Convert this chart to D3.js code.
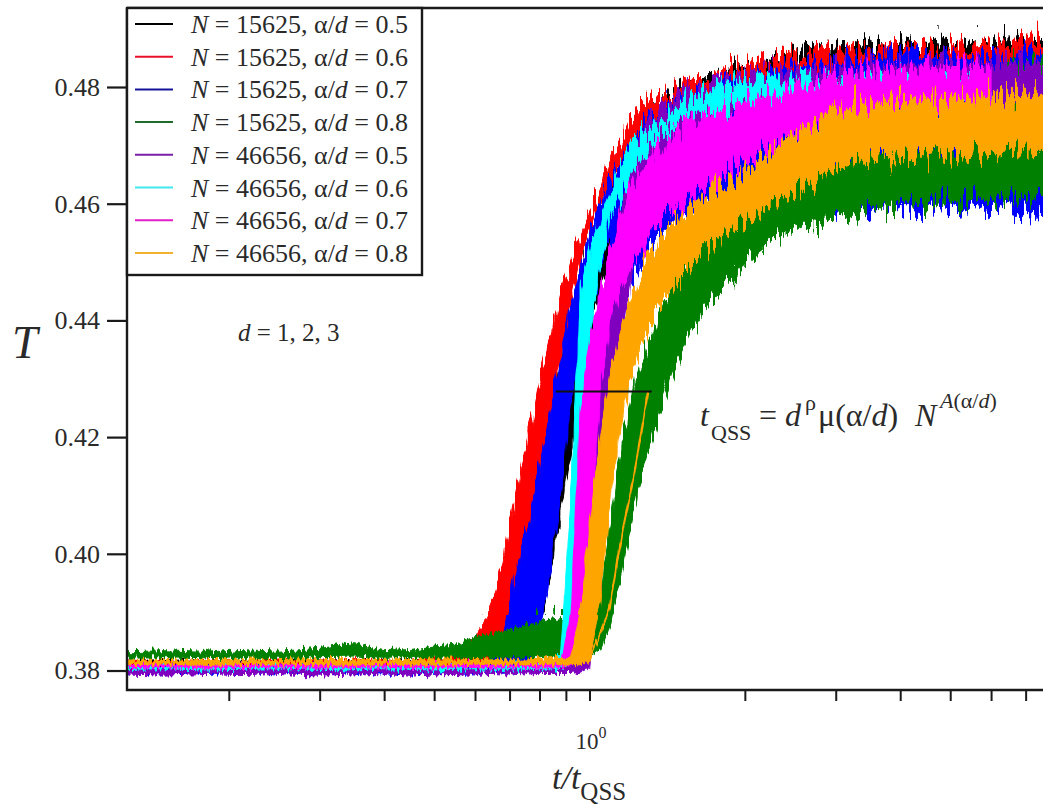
<!DOCTYPE html>
<html>
<head>
<meta charset="utf-8">
<script src="https://cdn.jsdelivr.net/npm/d3@7"></script>
<style>
  body { margin: 0; background: #fff; }
  svg { display: block; }
  text { font-family: "Liberation Serif", "Times New Roman", serif; fill: #2a2a2a; }
</style>
</head>
<body>
<svg id="chart" width="1043" height="804"></svg>
<script>
// Sampling points along the scaled time axis t/t_QSS
const gridT = [0.127, 0.15, 0.18, 0.21, 0.25, 0.3, 0.35, 0.4, 0.45, 0.5,
  0.55, 0.6, 0.64, 0.68, 0.72, 0.76, 0.8, 0.84, 0.88, 0.92,
  0.96, 1.0, 1.05, 1.1, 1.15, 1.2, 1.26, 1.32, 1.4, 1.48,
  1.56, 1.65, 1.75, 1.85, 1.95, 2.1, 2.25, 2.4, 2.6, 2.8,
  3.0, 3.25, 3.5, 3.8, 4.1, 4.4, 4.8, 5.2, 5.6, 6.0,
  6.5, 7.0, 8.0];

// Temperature envelopes (lower / upper edge of the fluctuating runs, d = 1, 2, 3)
const blackHi = [0.3815, 0.3817, 0.3814, 0.3816, 0.3815, 0.3818, 0.3815, 0.3816, 0.3817, 0.3816,
  0.3818, 0.3818, 0.3820, 0.3850, 0.3930, 0.4020, 0.4120, 0.4210, 0.4310, 0.4400,
  0.4470, 0.4530, 0.4580, 0.4635, 0.4670, 0.4705, 0.4740, 0.4760, 0.4780, 0.4795,
  0.4805, 0.4815, 0.4812, 0.4828, 0.4838, 0.4832, 0.4852, 0.4845, 0.4866, 0.4852,
  0.4872, 0.4858, 0.4880, 0.4862, 0.4878, 0.4858, 0.4884, 0.4865, 0.4876, 0.4862,
  0.4888, 0.4868, 0.4880];
const blackLo = [0.3807, 0.3806, 0.3808, 0.3806, 0.3807, 0.3806, 0.3808, 0.3806, 0.3807, 0.3806,
  0.3807, 0.3806, 0.3807, 0.3808, 0.3810, 0.3835, 0.3890, 0.3970, 0.4070, 0.4180,
  0.4280, 0.4370, 0.4450, 0.4520, 0.4570, 0.4610, 0.4650, 0.4680, 0.4705, 0.4725,
  0.4740, 0.4750, 0.4758, 0.4765, 0.4770, 0.4775, 0.4778, 0.4780, 0.4782, 0.4784,
  0.4785, 0.4786, 0.4787, 0.4788, 0.4788, 0.4789, 0.4790, 0.4790, 0.4791, 0.4791,
  0.4792, 0.4792, 0.4793];

const redHi = [0.3816, 0.3815, 0.3817, 0.3815, 0.3818, 0.3816, 0.3817, 0.3818, 0.3816, 0.3820,
  0.3824, 0.3855, 0.3900, 0.3990, 0.4100, 0.4200, 0.4300, 0.4370, 0.4445, 0.4500,
  0.4545, 0.4580, 0.4625, 0.4680, 0.4710, 0.4745, 0.4770, 0.4778, 0.4782, 0.4790,
  0.4805, 0.4806, 0.4818, 0.4834, 0.4826, 0.4846, 0.4838, 0.4855, 0.4846, 0.4860,
  0.4850, 0.4866, 0.4855, 0.4870, 0.4858, 0.4868, 0.4862, 0.4874, 0.4866, 0.4882,
  0.4870, 0.4886, 0.4876];
const redLo = [0.3808, 0.3809, 0.3807, 0.3808, 0.3809, 0.3807, 0.3808, 0.3809, 0.3808, 0.3807,
  0.3808, 0.3808, 0.3810, 0.3820, 0.3870, 0.3980, 0.4100, 0.4220, 0.4330, 0.4420,
  0.4500, 0.4550, 0.4600, 0.4630, 0.4660, 0.4680, 0.4700, 0.4715, 0.4730, 0.4740,
  0.4750, 0.4755, 0.4762, 0.4768, 0.4772, 0.4776, 0.4778, 0.4780, 0.4782, 0.4784,
  0.4785, 0.4786, 0.4787, 0.4788, 0.4789, 0.4790, 0.4790, 0.4791, 0.4791, 0.4792,
  0.4792, 0.4793, 0.4793];

const blueHi = [0.3809, 0.3808, 0.3810, 0.3808, 0.3809, 0.3810, 0.3808, 0.3809, 0.3810, 0.3808,
  0.3809, 0.3810, 0.3812, 0.3860, 0.3970, 0.4050, 0.4150, 0.4240, 0.4340, 0.4420,
  0.4490, 0.4550, 0.4600, 0.4640, 0.4670, 0.4700, 0.4730, 0.4750, 0.4770, 0.4780,
  0.4790, 0.4795, 0.4805, 0.4810, 0.4815, 0.4820, 0.4825, 0.4830, 0.4835, 0.4840,
  0.4838, 0.4845, 0.4848, 0.4852, 0.4862, 0.4850, 0.4855, 0.4858, 0.4850, 0.4856,
  0.4852, 0.4858, 0.4855];
const blueLo = [0.3796, 0.3798, 0.3795, 0.3797, 0.3794, 0.3797, 0.3795, 0.3796, 0.3794, 0.3797,
  0.3795, 0.3796, 0.3797, 0.3797, 0.3798, 0.3810, 0.3865, 0.3980, 0.4100, 0.4260,
  0.4360, 0.4430, 0.4490, 0.4540, 0.4400, 0.4460, 0.4500, 0.4530, 0.4550, 0.4570,
  0.4580, 0.4592, 0.4585, 0.4600, 0.4592, 0.4605, 0.4588, 0.4600, 0.4595, 0.4608,
  0.4590, 0.4600, 0.4586, 0.4602, 0.4595, 0.4585, 0.4600, 0.4590, 0.4598, 0.4588,
  0.4602, 0.4592, 0.4598];

const greenHi = [0.3832, 0.3834, 0.3831, 0.3836, 0.3833, 0.3838, 0.3846, 0.3834, 0.3836, 0.3842,
  0.3845, 0.3858, 0.3862, 0.3868, 0.3872, 0.3878, 0.3882, 0.3886, 0.3889, 0.3890,
  0.3893, 0.3897, 0.3940, 0.4060, 0.4180, 0.4260, 0.4325, 0.4370, 0.4430, 0.4475,
  0.4510, 0.4545, 0.4570, 0.4590, 0.4610, 0.4630, 0.4645, 0.4655, 0.4665, 0.4672,
  0.4680, 0.4688, 0.4692, 0.4690, 0.4696, 0.4698, 0.4702, 0.4700, 0.4706, 0.4712,
  0.4835, 0.4840, 0.4838];
const greenLo = [0.3821, 0.3822, 0.3820, 0.3822, 0.3821, 0.3822, 0.3823, 0.3821, 0.3822, 0.3821,
  0.3822, 0.3820, 0.3820, 0.3821, 0.3822, 0.3822, 0.3822, 0.3822, 0.3821, 0.3822,
  0.3822, 0.3822, 0.3835, 0.3880, 0.3960, 0.4040, 0.4130, 0.4200, 0.4270, 0.4330,
  0.4375, 0.4410, 0.4440, 0.4465, 0.4490, 0.4515, 0.4535, 0.4550, 0.4565, 0.4560,
  0.4585, 0.4578, 0.4595, 0.4588, 0.4605, 0.4596, 0.4610, 0.4600, 0.4612, 0.4604,
  0.4615, 0.4608, 0.4618];

const purpleHi = [0.3806, 0.3805, 0.3807, 0.3805, 0.3806, 0.3807, 0.3805, 0.3806, 0.3807, 0.3805,
  0.3806, 0.3806, 0.3807, 0.3806, 0.3807, 0.3806, 0.3807, 0.3808, 0.3810, 0.3820,
  0.3900, 0.4100, 0.4320, 0.4480, 0.4590, 0.4660, 0.4720, 0.4750, 0.4770, 0.4780,
  0.4790, 0.4795, 0.4805, 0.4810, 0.4815, 0.4822, 0.4828, 0.4824, 0.4832, 0.4828,
  0.4836, 0.4830, 0.4838, 0.4834, 0.4840, 0.4836, 0.4842, 0.4838, 0.4844, 0.4840,
  0.4845, 0.4840, 0.4844];
const purpleLo = [0.3794, 0.3792, 0.3795, 0.3793, 0.3795, 0.3792, 0.3794, 0.3795, 0.3792, 0.3794,
  0.3795, 0.3793, 0.3795, 0.3794, 0.3795, 0.3794, 0.3795, 0.3795, 0.3795, 0.3795,
  0.3797, 0.3805, 0.3950, 0.4180, 0.4350, 0.4470, 0.4560, 0.4620, 0.4660, 0.4690,
  0.4710, 0.4720, 0.4730, 0.4738, 0.4745, 0.4750, 0.4755, 0.4758, 0.4760, 0.4762,
  0.4764, 0.4765, 0.4766, 0.4767, 0.4768, 0.4769, 0.4770, 0.4770, 0.4771, 0.4771,
  0.4772, 0.4772, 0.4773];

const cyanHi = [0.3810, 0.3809, 0.3810, 0.3811, 0.3809, 0.3810, 0.3811, 0.3809, 0.3810, 0.3811,
  0.3810, 0.3809, 0.3810, 0.3810, 0.3811, 0.3810, 0.3810, 0.3811, 0.3830, 0.4100,
  0.4450, 0.4520, 0.4575, 0.4625, 0.4665, 0.4700, 0.4720, 0.4735, 0.4750, 0.4765,
  0.4780, 0.4790, 0.4795, 0.4802, 0.4808, 0.4810, 0.4812, 0.4815, 0.4818, 0.4820,
  0.4815, 0.4812, 0.4815, 0.4812, 0.4815, 0.4812, 0.4814, 0.4812, 0.4814, 0.4812,
  null, null, null];
const cyanLo = [0.3802, 0.3803, 0.3801, 0.3802, 0.3803, 0.3802, 0.3801, 0.3803, 0.3802, 0.3801,
  0.3802, 0.3803, 0.3802, 0.3802, 0.3803, 0.3802, 0.3802, 0.3803, 0.3802, 0.3815,
  0.4150, 0.4370, 0.4500, 0.4580, 0.4610, 0.4640, 0.4680, 0.4705, 0.4720, 0.4730,
  0.4740, 0.4750, 0.4755, 0.4760, 0.4762, 0.4764, 0.4766, 0.4768, 0.4770, 0.4771,
  0.4772, 0.4773, 0.4774, 0.4775, 0.4775, 0.4776, 0.4776, 0.4777, 0.4777, 0.4778,
  null, null, null];

const magentaHi = [0.3812, 0.3811, 0.3813, 0.3812, 0.3811, 0.3813, 0.3812, 0.3811, 0.3813, 0.3812,
  0.3812, 0.3813, 0.3812, 0.3811, 0.3813, 0.3812, 0.3812, 0.3813, 0.3815, 0.3900,
  0.4250, 0.4370, 0.4450, 0.4520, 0.4570, 0.4620, 0.4655, 0.4680, 0.4705, 0.4725,
  0.4738, 0.4748, 0.4755, 0.4762, 0.4770, 0.4780, 0.4785, 0.4790, 0.4800, 0.4815,
  0.4820, 0.4826, 0.4830, 0.4834, 0.4830, 0.4836, 0.4832, 0.4838, 0.4834, 0.4836,
  null, null, null];
const magentaLo = [0.3805, 0.3806, 0.3804, 0.3805, 0.3806, 0.3804, 0.3805, 0.3806, 0.3804, 0.3805,
  0.3806, 0.3805, 0.3804, 0.3805, 0.3806, 0.3805, 0.3804, 0.3805, 0.3806, 0.3810,
  0.3825, 0.4000, 0.4280, 0.4400, 0.4460, 0.4485, 0.4520, 0.4555, 0.4580, 0.4595,
  0.4607, 0.4620, 0.4635, 0.4650, 0.4665, 0.4680, 0.4690, 0.4705, 0.4715, 0.4725,
  0.4735, 0.4740, 0.4745, 0.4750, 0.4752, 0.4755, 0.4756, 0.4758, 0.4759, 0.4760,
  null, null, null];

const orangeHi = [0.3818, 0.3817, 0.3819, 0.3818, 0.3817, 0.3819, 0.3818, 0.3817, 0.3819, 0.3818,
  0.3818, 0.3819, 0.3818, 0.3820, 0.3819, 0.3820, 0.3821, 0.3822, 0.3822, 0.3825,
  0.3900, 0.4050, 0.4200, 0.4320, 0.4380, 0.4430, 0.4485, 0.4520, 0.4550, 0.4575,
  0.4595, 0.4610, 0.4625, 0.4640, 0.4655, 0.4670, 0.4690, 0.4710, 0.4730, 0.4750,
  0.4765, 0.4772, 0.4768, 0.4778, 0.4775, 0.4782, 0.4778, 0.4785, 0.4780, 0.4788,
  0.4785, 0.4790, 0.4792];
const orangeLo = [0.3810, 0.3811, 0.3809, 0.3810, 0.3811, 0.3810, 0.3809, 0.3811, 0.3810, 0.3809,
  0.3810, 0.3811, 0.3810, 0.3810, 0.3811, 0.3810, 0.3810, 0.3811, 0.3810, 0.3810,
  0.3810, 0.3815, 0.3920, 0.4100, 0.4220, 0.4300, 0.4360, 0.4400, 0.4440, 0.4470,
  0.4490, 0.4515, 0.4535, 0.4550, 0.4565, 0.4580, 0.4602, 0.4615, 0.4630, 0.4645,
  0.4660, 0.4670, 0.4675, 0.4672, 0.4680, 0.4676, 0.4684, 0.4680, 0.4688, 0.4684,
  0.4690, 0.4688, 0.4692];

// The slowest N = 46656, alpha/d = 0.8 run, which lags behind the others
const orangeLagT = [0.97, 1.0, 1.035, 1.065, 1.095, 1.13, 1.155, 1.18, 1.215, 1.255, 1.30];
const orangeLagValues = [0.3815, 0.3818, 0.3852, 0.3878, 0.3910, 0.3985, 0.4030, 0.4070, 0.4127, 0.4200, 0.4280];

const systemSizes = [15625, 15625, 15625, 15625, 46656, 46656, 46656, 46656];
const alphaRatios = ["0.5", "0.6", "0.7", "0.8", "0.5", "0.6", "0.7", "0.8"];
const seriesColors = ["#000000", "#ff0000", "#0000ff", "#008000", "#8000c0", "#00ffff", "#ff00ff", "#ffa500"];
const legendColors = ["#000000", "#e8102a", "#14149a", "#1f6b2a", "#7a1fa8", "#40e8f0", "#e01ec8", "#f0b030"];
const lowerEdges = [blackLo, redLo, blueLo, greenLo, purpleLo, cyanLo, magentaLo, orangeLo];
const upperEdges = [blackHi, redHi, blueHi, greenHi, purpleHi, cyanHi, magentaHi, orangeHi];

const yTicks = [0.38, 0.40, 0.42, 0.44, 0.46, 0.48];
const xTicks = [0.2, 0.3, 0.4, 0.5, 0.6, 0.7, 0.8, 0.9, 1, 2, 3, 4, 5, 6, 7];

// Horizontal bar spanning the spread of the crossover times
const spreadT = [0.86, 1.32];
const spreadLevel = 0.4278;

const svg = d3.select("#chart");
const plotLeft = 127, plotRight = 1060, plotTop = 8, plotBottom = 690;

const x = d3.scaleLog().domain([0.127, 8.16]).range([plotLeft, plotRight]);
const y = d3.scaleLinear().domain([0.37666, 0.49354]).range([plotBottom, plotTop]);

const defs = svg.append("defs");
// Upper part of the plot (rise and plateau) and the quiet initial state below it
const splitY = y(0.3895);
defs.append("clipPath").attr("id", "clip-upper").append("rect")
  .attr("x", plotLeft).attr("y", plotTop).attr("width", plotRight - plotLeft).attr("height", splitY - plotTop);
defs.append("clipPath").attr("id", "clip-lower").append("rect")
  .attr("x", plotLeft).attr("y", splitY).attr("width", plotRight - plotLeft).attr("height", plotBottom - splitY);

// Vertical jitter texture for the thermal fluctuations of each run
function fluctuationFilter(id, seed, amplitude, freq) {
  const f = defs.append("filter").attr("id", id)
    .attr("filterUnits", "userSpaceOnUse")
    .attr("x", 0).attr("y", 0).attr("width", 1100).attr("height", 804)
    .attr("color-interpolation-filters", "sRGB");
  f.append("feTurbulence").attr("type", "fractalNoise")
    .attr("baseFrequency", freq).attr("numOctaves", 2).attr("seed", seed).attr("result", "noise");
  f.append("feColorMatrix").attr("in", "noise").attr("type", "matrix")
    .attr("values", "1 0 0 0 0  0 0 0 0 0.5  0 0 0 0 0  0 0 0 0 1").attr("result", "shift");
  f.append("feDisplacementMap").attr("in", "SourceGraphic").attr("in2", "shift")
    .attr("scale", amplitude).attr("xChannelSelector", "G").attr("yChannelSelector", "R");
}
seriesColors.forEach((c, k) => {
  fluctuationFilter(`jitter-up-${k}`, 11 + k * 7, 52, "0.3 0.03");
  fluctuationFilter(`jitter-low-${k}`, 5 + k * 13, 12, "0.4 0.03");
});

const upper = svg.append("g").attr("clip-path", "url(#clip-upper)");
const lower = svg.append("g").attr("clip-path", "url(#clip-lower)");

const idx = d3.range(gridT.length);
seriesColors.forEach((color, k) => {
  const lo = lowerEdges[k], hi = upperEdges[k];
  const band = d3.area()
    .defined(i => lo[i] != null && hi[i] != null)
    .x(i => x(gridT[i]))
    .y0(i => y(lo[i]))
    .y1(i => y(hi[i]));
  [[upper, `jitter-up-${k}`], [lower, `jitter-low-${k}`]].forEach(([layer, fid]) => {
    layer.append("path")
      .attr("d", band(idx))
      .attr("fill", color)
      .attr("stroke", color)
      .attr("stroke-width", 1)
      .attr("filter", `url(#${fid})`);
  });
});

const lagLine = d3.line().x(t => x(t)).y((t, i) => y(orangeLagValues[i]));
[upper, lower].forEach(layer => {
  layer.append("path")
    .attr("d", lagLine(orangeLagT))
    .attr("fill", "none")
    .attr("stroke", seriesColors[7])
    .attr("stroke-width", 2)
    .attr("filter", "url(#jitter-low-7)");
});

svg.append("line")
  .attr("x1", x(spreadT[0])).attr("x2", x(spreadT[1]))
  .attr("y1", y(spreadLevel)).attr("y2", y(spreadLevel))
  .attr("stroke", "#111").attr("stroke-width", 2);

// Axes
const yAxis = svg.append("g").attr("transform", `translate(${plotLeft},0)`)
  .call(d3.axisLeft(y).tickValues(yTicks).tickSize(20).tickPadding(7).tickFormat(d3.format(".2f")));
yAxis.select(".domain").remove();
yAxis.selectAll(".tick line").attr("stroke", "#1a1a1a").attr("stroke-width", 2.2);
yAxis.selectAll(".tick text").style("font-family", "Liberation Serif").style("font-size", "26px").attr("fill", "#333");

const xAxis = svg.append("g").attr("transform", `translate(0,${plotBottom})`)
  .call(d3.axisBottom(x).tickValues(xTicks).tickSize(11).tickFormat(""));
xAxis.select(".domain").remove();
xAxis.selectAll(".tick line").attr("stroke", "#1a1a1a").attr("stroke-width", 2);

// Frame
svg.append("path")
  .attr("d", `M${plotLeft},${plotTop}H${plotRight}M${plotLeft},${plotTop}V${plotBottom}H${plotRight}`)
  .attr("fill", "none").attr("stroke", "#1a1a1a").attr("stroke-width", 2.4);

// 10^0 tick label
const decade = svg.append("text").attr("x", x(1) - 14).attr("y", 749).style("font-size", "23px");
decade.append("tspan").text("10");
decade.append("tspan").attr("dy", -11).style("font-size", "16px").text("0");

// Axis titles
const xTitle = svg.append("text").attr("x", 552).attr("y", 789).style("font-size", "34px");
xTitle.append("tspan").style("font-style", "italic").text("t/t");
xTitle.append("tspan").attr("dy", 11).style("font-size", "25px").text("QSS");

svg.append("text").attr("x", 12).attr("y", 358)
  .style("font-size", "46px").style("font-style", "italic").text("T");

// Legend
svg.append("rect").attr("x", plotLeft).attr("y", plotTop).attr("width", 295).attr("height", 267)
  .attr("fill", "#fff").attr("stroke", "#1a1a1a").attr("stroke-width", 2.4);

systemSizes.forEach((n, i) => {
  const base = 33 + i * 32.7;
  svg.append("line").attr("x1", 135).attr("x2", 173)
    .attr("y1", base - 9).attr("y2", base - 9)
    .attr("stroke", legendColors[i]).attr("stroke-width", 2);
  const t = svg.append("text").attr("x", 191).attr("y", base).style("font-size", "26px").attr("fill", "#333");
  t.append("tspan").style("font-style", "italic").text("N");
  t.append("tspan").text(` = ${n}, α/`);
  t.append("tspan").style("font-style", "italic").text("d");
  t.append("tspan").text(` = ${alphaRatios[i]}`);
});

// Annotations
const dNote = svg.append("text").attr("x", 238).attr("y", 341).style("font-size", "25px").attr("fill", "#333");
dNote.append("tspan").style("font-style", "italic").text("d");
dNote.append("tspan").text(" = 1, 2, 3");

const formula = svg.append("text").attr("y", 426).style("font-size", "32px").attr("fill", "#333");
formula.append("tspan").attr("x", 700).style("font-style", "italic").text("t");
formula.append("tspan").attr("x", 711).attr("y", 440).style("font-size", "22px").text("QSS");
formula.append("tspan").attr("x", 759).attr("y", 426).text("=");
formula.append("tspan").attr("x", 785).style("font-style", "italic").text("d");
formula.append("tspan").attr("x", 805).attr("y", 410).style("font-size", "22px").text("ρ");
formula.append("tspan").attr("x", 818).attr("y", 426).text("μ(α/");
formula.append("tspan").style("font-style", "italic").text("d");
formula.append("tspan").text(")");
formula.append("tspan").attr("x", 915).style("font-style", "italic").text("N");
formula.append("tspan").attr("x", 940).attr("y", 408).style("font-size", "22px").style("font-style", "italic").text("A");
formula.append("tspan").style("font-size", "22px").text("(α/");
formula.append("tspan").style("font-size", "22px").style("font-style", "italic").text("d");
formula.append("tspan").style("font-size", "22px").text(")");
</script>
</body>
</html>
